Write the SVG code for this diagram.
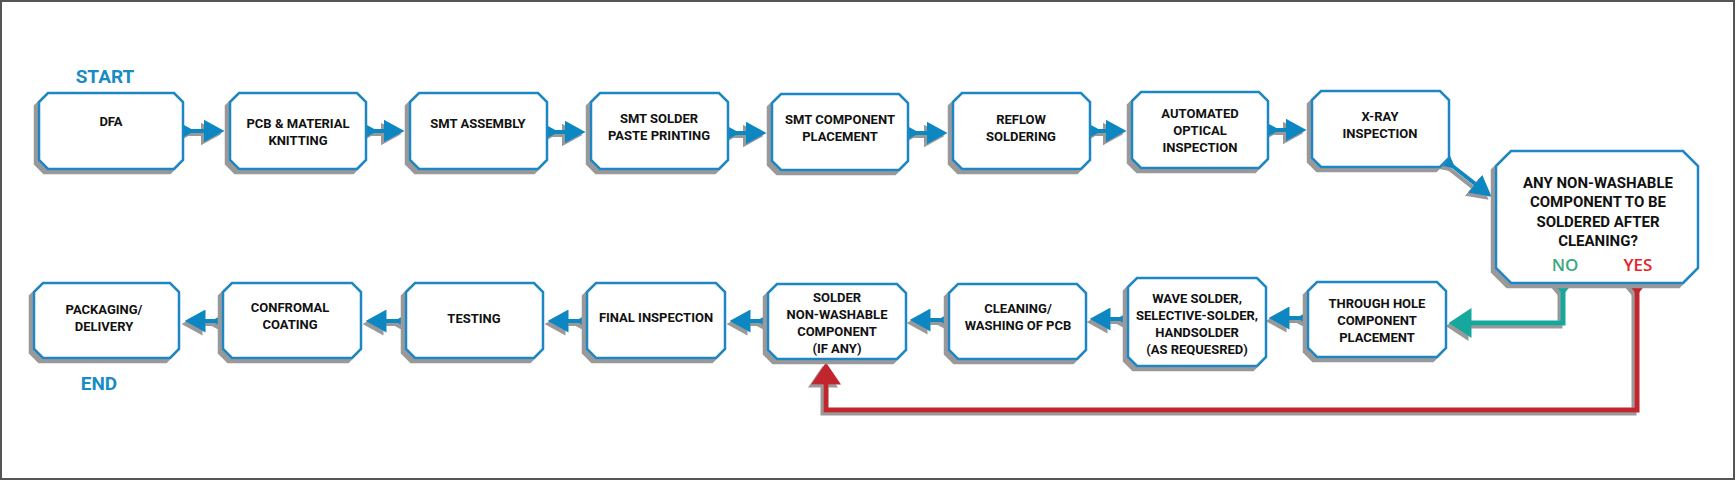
<svg xmlns="http://www.w3.org/2000/svg" width="1736" height="481" viewBox="0 0 1736 481">
<style>
.box{fill:#fff;stroke:#1a87c2;stroke-width:2.5;stroke-linejoin:miter}
.t{font-family:Roboto,"Liberation Sans",sans-serif;font-weight:700;font-size:13px;fill:#111;text-anchor:middle}
.td{font-size:15px}
.lbl{font-family:Roboto,"Liberation Sans",sans-serif;font-weight:700;font-size:19px;fill:#1a8cc4;text-anchor:middle}
.yn{font-family:"Open Sans","Liberation Sans",sans-serif;font-weight:600;font-size:17px;text-anchor:middle}
.blue{fill:none;stroke:#1187c1;stroke-width:4;marker-start:url(#tb);marker-end:url(#hb)}
</style>
<defs>
<filter id="sh" x="-10%" y="-10%" width="120%" height="130%">
<feDropShadow dx="-4" dy="4" stdDeviation="0.4" flood-color="#999" flood-opacity="1"/>
</filter>
<filter id="shc" x="-20%" y="-30%" width="140%" height="160%">
<feDropShadow dx="-3" dy="3" stdDeviation="0.4" flood-color="#999" flood-opacity="1"/>
</filter>
<marker id="hb" markerUnits="userSpaceOnUse" viewBox="0 0 21 23" markerWidth="21" markerHeight="23" refX="0.5" refY="11.5" orient="auto"><path d="M0,0 L21,11.5 L0,23Z" fill="#1187c1"/></marker>
<marker id="tb" markerUnits="userSpaceOnUse" viewBox="0 0 12 13" markerWidth="12" markerHeight="13" refX="0" refY="6.5" orient="auto"><path d="M0,0 L12,6.5 L0,13Z" fill="#1187c1"/></marker>
<marker id="ht" markerUnits="userSpaceOnUse" viewBox="0 0 23 30" markerWidth="23" markerHeight="30" refX="0.5" refY="15" orient="auto"><path d="M0,0 L23,15 L0,30Z" fill="#13a89c"/></marker>
<marker id="tt" markerUnits="userSpaceOnUse" viewBox="0 0 12 20" markerWidth="12" markerHeight="20" refX="0" refY="10" orient="auto"><path d="M0,0 L12,10 L0,20Z" fill="#13a89c"/></marker>
<marker id="hr" markerUnits="userSpaceOnUse" viewBox="0 0 22 30" markerWidth="22" markerHeight="30" refX="0.5" refY="15" orient="auto"><path d="M0,0 L22,15 L0,30Z" fill="#c1272d"/></marker>
<marker id="tr" markerUnits="userSpaceOnUse" viewBox="0 0 12 20" markerWidth="12" markerHeight="20" refX="0" refY="10" orient="auto"><path d="M0,0 L12,10 L0,20Z" fill="#c1272d"/></marker>
</defs>
<rect x="0" y="0" width="1736" height="481" fill="#fff"/>
<rect x="1" y="1" width="1733" height="478" fill="none" stroke="#555" stroke-width="2"/>

<text class="lbl" x="105" y="83">START</text>
<text class="lbl" x="99" y="390">END</text>

<g id="connectors" filter="url(#shc)">
<path class="blue" d="M183,131 H204"/>
<path class="blue" d="M366,131 H384"/>
<path class="blue" d="M547,132 H565"/>
<path class="blue" d="M728,133 H746"/>
<path class="blue" d="M908,133 H927"/>
<path class="blue" d="M1090,131 H1106"/>
<path class="blue" d="M1268,130 H1286"/>
<path class="blue" d="M1446,161 L1475.5,184.1"/>
<path fill="none" stroke="#13a89c" stroke-width="5" marker-start="url(#tt)" marker-end="url(#ht)" d="M1563,283 V323 H1471"/>
<path fill="none" stroke="#c1272d" stroke-width="5" marker-start="url(#tr)" marker-end="url(#hr)" d="M1637,283 V410 H826 V384"/>
<path class="blue" d="M1308,318 H1289"/>
<path class="blue" d="M1128,319 H1110"/>
<path class="blue" d="M949,320 H930"/>
<path class="blue" d="M768,321 H750"/>
<path class="blue" d="M587,321 H568"/>
<path class="blue" d="M406,321 H386"/>
<path class="blue" d="M223,321 H205"/>
</g>

<g id="n1" filter="url(#sh)"><polygon class="box" points="48,93 174,93 183,102 183,160 174,169 48,169 39,160 39,102"/></g>
<text class="t" x="111" y="126">DFA</text>
<g id="n2" filter="url(#sh)"><polygon class="box" points="239,93 357,93 366,102 366,160 357,169 239,169 230,160 230,102"/></g>
<text class="t" x="298" y="128">PCB &amp; MATERIAL</text><text class="t" x="298" y="145">KNITTING</text>
<g id="n3" filter="url(#sh)"><polygon class="box" points="419,93 538,93 547,102 547,160 538,169 419,169 410,160 410,102"/></g>
<text class="t" x="478" y="128">SMT ASSEMBLY</text>
<g id="n4" filter="url(#sh)"><polygon class="box" points="600,93 719,93 728,102 728,160 719,169 600,169 591,160 591,102"/></g>
<text class="t" x="659" y="123">SMT SOLDER</text><text class="t" x="659" y="140">PASTE PRINTING</text>
<g id="n5" filter="url(#sh)"><polygon class="box" points="781,94 899,94 908,103 908,161 899,170 781,170 772,161 772,103"/></g>
<text class="t" x="840" y="124">SMT COMPONENT</text><text class="t" x="840" y="141">PLACEMENT</text>
<g id="n6" filter="url(#sh)"><polygon class="box" points="962,93 1081,93 1090,102 1090,160 1081,169 962,169 953,160 953,102"/></g>
<text class="t" x="1021" y="124">REFLOW</text><text class="t" x="1021" y="141">SOLDERING</text>
<g id="n7" filter="url(#sh)"><polygon class="box" points="1141,92 1259,92 1268,101 1268,159 1259,168 1141,168 1132,159 1132,101"/></g>
<text class="t" x="1200" y="118">AUTOMATED</text><text class="t" x="1200" y="135">OPTICAL</text><text class="t" x="1200" y="152">INSPECTION</text>
<g id="n8" filter="url(#sh)"><polygon class="box" points="1321,91 1440,91 1449,100 1449,158 1440,167 1321,167 1312,158 1312,100"/></g>
<text class="t" x="1380" y="121">X-RAY</text><text class="t" x="1380" y="138">INSPECTION</text>

<g id="decision" filter="url(#sh)"><polygon class="box" points="1511,151 1683,151 1698,166 1698,268 1683,283 1511,283 1496,268 1496,166"/></g>
<text class="t td" x="1598" y="188">ANY NON-WASHABLE</text>
<text class="t td" x="1598" y="207">COMPONENT TO BE</text>
<text class="t td" x="1598" y="227">SOLDERED AFTER</text>
<text class="t td" x="1598" y="246">CLEANING?</text>
<text class="yn" x="1565" y="271" fill="#3ba982">NO</text>
<text class="yn" x="1638" y="271" fill="#e52329">YES</text>

<g id="n9" filter="url(#sh)"><polygon class="box" points="1317,282 1437,282 1446,291 1446,348 1437,357 1317,357 1308,348 1308,291"/></g>
<text class="t" x="1377" y="308">THROUGH HOLE</text><text class="t" x="1377" y="325">COMPONENT</text><text class="t" x="1377" y="342">PLACEMENT</text>
<g id="n10" filter="url(#sh)"><polygon class="box" points="1137,278 1257,278 1266,287 1266,357 1257,366 1137,366 1128,357 1128,287"/></g>
<text class="t" x="1197" y="303">WAVE SOLDER,</text><text class="t" x="1197" y="320">SELECTIVE-SOLDER,</text><text class="t" x="1197" y="337">HANDSOLDER</text><text class="t" x="1197" y="354">(AS REQUESRED)</text>
<g id="n11" filter="url(#sh)"><polygon class="box" points="958,284 1077,284 1086,293 1086,350 1077,359 958,359 949,350 949,293"/></g>
<text class="t" x="1018" y="313">CLEANING/</text><text class="t" x="1018" y="330">WASHING OF PCB</text>
<g id="n12" filter="url(#sh)"><polygon class="box" points="777,284 897,284 906,293 906,350 897,359 777,359 768,350 768,293"/></g>
<text class="t" x="837" y="302">SOLDER</text><text class="t" x="837" y="319">NON-WASHABLE</text><text class="t" x="837" y="336">COMPONENT</text><text class="t" x="837" y="353">(IF ANY)</text>
<g id="n13" filter="url(#sh)"><polygon class="box" points="596,283 716,283 725,292 725,349 716,358 596,358 587,349 587,292"/></g>
<text class="t" x="656" y="322">FINAL INSPECTION</text>
<g id="n14" filter="url(#sh)"><polygon class="box" points="415,283 534,283 543,292 543,349 534,358 415,358 406,349 406,292"/></g>
<text class="t" x="474" y="323">TESTING</text>
<g id="n15" filter="url(#sh)"><polygon class="box" points="232,283 352,283 361,292 361,349 352,358 232,358 223,349 223,292"/></g>
<text class="t" x="290" y="312">CONFROMAL</text><text class="t" x="290" y="329">COATING</text>
<g id="n16" filter="url(#sh)"><polygon class="box" points="43,283 170,283 179,292 179,349 170,358 43,358 34,349 34,292"/></g>
<text class="t" x="104" y="314">PACKAGING/</text><text class="t" x="104" y="331">DELIVERY</text>
</svg>
